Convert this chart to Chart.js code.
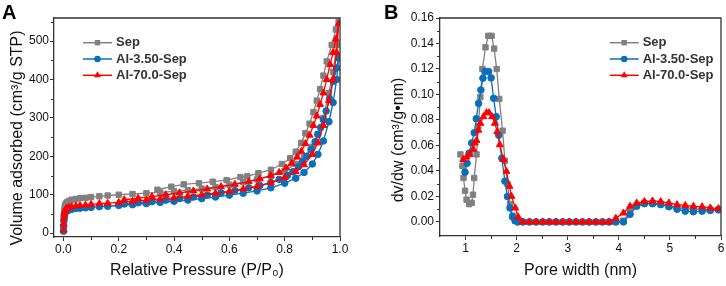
<!DOCTYPE html>
<html>
<head>
<meta charset="utf-8">
<script src="https://cdn.jsdelivr.net/npm/chart.js@4/dist/chart.umd.min.js"></script>
<style>
  body { margin: 0; background: #fff; }
  .panel { position: absolute; top: 0; width: 363px; height: 286px; }
</style>
</head>
<body>
<div class="panel" style="left:0"><canvas id="chartA" width="363" height="286"></canvas></div>
<div class="panel" style="left:363px"><canvas id="chartB" width="363" height="286"></canvas></div>
<script>
// ---- Panel A: N2 isotherms (adsorption then desorption branch) ----
var adsP = [0.0005, 0.001, 0.002, 0.003, 0.005, 0.008, 0.012, 0.02, 0.03, 0.045, 0.06, 0.08, 0.1, 0.13, 0.16, 0.2, 0.25, 0.3, 0.35, 0.4, 0.45, 0.5, 0.55, 0.6, 0.65, 0.7, 0.75, 0.8, 0.84, 0.87, 0.9, 0.92, 0.94, 0.96, 0.975, 0.988, 0.995];
var sepAds = [12, 30, 48, 60, 70, 76, 80, 84, 87, 89, 91, 92, 94, 96, 98, 100, 102, 104, 106, 109, 112, 116, 120, 126, 133, 140, 149, 162, 180, 198, 225, 258, 300, 365, 420, 490, 550];
var al35Ads = [5, 18, 32, 42, 50, 55, 58, 60, 62, 64, 65, 66, 67, 69, 70, 72, 74, 77, 80, 83, 86, 90, 94, 99, 104, 110, 118, 130, 143, 158, 180, 205, 240, 290, 340, 400, 456];
var al70Ads = [8, 25, 40, 50, 57, 62, 65, 67, 69, 71, 72, 73, 75, 77, 78, 80, 83, 86, 89, 92, 96, 100, 104, 109, 115, 122, 131, 145, 160, 178, 205, 235, 280, 345, 400, 470, 545];

var sepDesP = [0.985, 0.97, 0.952, 0.94, 0.928, 0.916, 0.904, 0.89, 0.875, 0.86, 0.84, 0.82, 0.79, 0.75, 0.705, 0.665, 0.64, 0.59, 0.54, 0.49, 0.435, 0.39, 0.34];
var sepDes = [530, 490, 447, 410, 375, 345, 315, 285, 260, 235, 212, 195, 180, 165, 156, 148, 146, 138, 134, 130, 127, 121, 113];
var al35DesP = [0.988, 0.975, 0.962, 0.95, 0.94, 0.93, 0.92, 0.91, 0.895, 0.88, 0.865, 0.85, 0.83, 0.81, 0.78, 0.75, 0.71, 0.67, 0.62, 0.57, 0.52, 0.47, 0.42, 0.37, 0.32, 0.27, 0.22];
var al35Des = [430, 395, 350, 318, 295, 275, 257, 238, 218, 200, 186, 173, 160, 150, 140, 132, 124, 118, 111, 105, 99, 94, 90, 86, 82, 79, 76];
var al70DesP = [0.985, 0.975, 0.964, 0.952, 0.94, 0.928, 0.916, 0.904, 0.89, 0.875, 0.86, 0.845, 0.825, 0.805, 0.78, 0.75, 0.71, 0.67, 0.62, 0.57, 0.52, 0.47, 0.42, 0.37, 0.32, 0.27, 0.22];
var al70Des = [505, 470, 439, 400, 365, 335, 305, 280, 255, 233, 213, 198, 182, 170, 158, 150, 141, 134, 127, 121, 115, 110, 105, 100, 95, 91, 87];

var ticksAx = [0, 0.2, 0.4, 0.6, 0.8, 1.0];
var minorAx = [0.1, 0.3, 0.5, 0.7, 0.9];
var ticksAy = [0, 100, 200, 300, 400, 500];
var minorAy = [50, 150, 250, 350, 450, 550];

// ---- Panel B: pore size distribution ----
var sepW = [0.9, 0.94, 0.96, 0.99, 1.02, 1.07, 1.12, 1.145, 1.17, 1.215, 1.25, 1.29, 1.33, 1.39, 1.445, 1.51, 1.56, 1.61, 1.66, 1.725, 1.77, 1.82, 1.87, 1.92, 1.97, 2.03,
  2.12, 2.25, 2.38, 2.51, 2.64, 2.77, 2.9, 3.03, 3.16, 3.29, 3.42, 3.55, 3.68, 3.81, 3.94,
  4.09, 4.22, 4.35, 4.5, 4.66, 4.82, 4.98, 5.14, 5.3, 5.46, 5.63, 5.79, 5.95];
var sepPsd = [0.053, 0.044, 0.0345, 0.0245, 0.0175, 0.014, 0.015, 0.0214, 0.0345, 0.053, 0.075, 0.098, 0.12, 0.137, 0.146, 0.146, 0.136, 0.12, 0.0965, 0.0716, 0.048, 0.03, 0.014, 0.005, 0.001, 0,
  0, 0, 0, 0, 0, 0, 0, 0, 0, 0, 0, 0, 0, 0, 0,
  0.001, 0.008, 0.013, 0.015, 0.0148, 0.014, 0.0125, 0.011, 0.0105, 0.01, 0.0098, 0.0097, 0.0097];
var al35W = [0.99, 1.03, 1.07, 1.12, 1.17, 1.21, 1.255, 1.3, 1.34, 1.385, 1.45, 1.5, 1.55, 1.6, 1.65, 1.71, 1.77, 1.82, 1.87, 1.92, 1.97, 2.02,
  2.12, 2.25, 2.38, 2.51, 2.64, 2.77, 2.9, 3.03, 3.16, 3.29, 3.42, 3.55, 3.68, 3.81, 3.94,
  4.09, 4.22, 4.35, 4.5, 4.66, 4.82, 4.98, 5.14, 5.3, 5.46, 5.63, 5.79, 5.95];
var al35Psd = [0.039, 0.046, 0.054, 0.062, 0.07, 0.081, 0.093, 0.1035, 0.1127, 0.118, 0.118, 0.113, 0.097, 0.0826, 0.068, 0.05, 0.032, 0.02, 0.011, 0.004, 0.001, 0,
  0, 0, 0, 0, 0, 0, 0, 0, 0, 0, 0, 0, 0, 0, 0,
  0, 0.006, 0.0123, 0.0143, 0.0143, 0.0136, 0.012, 0.01, 0.0085, 0.008, 0.0085, 0.009, 0.0095];
var al70W = [0.955, 1.02, 1.08, 1.15, 1.18, 1.215, 1.25, 1.29, 1.35, 1.41, 1.46, 1.52, 1.575, 1.62, 1.67, 1.74, 1.8, 1.86, 1.9, 1.975, 2.03,
  2.12, 2.25, 2.38, 2.51, 2.64, 2.77, 2.9, 3.03, 3.16, 3.29, 3.42, 3.55, 3.68, 3.81,
  3.94, 4.09, 4.22, 4.35, 4.5, 4.66, 4.82, 4.98, 5.14, 5.3, 5.46, 5.63, 5.79, 5.95];
var al70Psd = [0.049, 0.051, 0.053, 0.057, 0.062, 0.064, 0.072, 0.0774, 0.0826, 0.0857, 0.0857, 0.0826, 0.0774, 0.0708, 0.0606, 0.049, 0.0397, 0.028, 0.0201, 0.011, 0.004,
  0, 0, 0, 0, 0, 0, 0, 0, 0, 0, 0, 0, 0, 0,
  0.003, 0.007, 0.0123, 0.0149, 0.016, 0.0165, 0.016, 0.0149, 0.0136, 0.013, 0.0123, 0.012, 0.011, 0.0105];

var ticksBx = [1, 2, 3, 4, 5, 6];
var minorBx = [1.5, 2.5, 3.5, 4.5, 5.5];
var ticksBy = [0, 0.02, 0.04, 0.06, 0.08, 0.10, 0.12, 0.14, 0.16];
var minorBy = [0.01, 0.03, 0.05, 0.07, 0.09, 0.11, 0.13, 0.15];

var seriesNames = ['Sep', 'Al-3.50-Sep', 'Al-70.0-Sep'];
var seriesColors = ['#808080', '#0a6fba', '#ff0000'];
var seriesStyles = ['rect', 'circle', 'triangle'];
var seriesRadius = [3.8, 3.3, 4];

var FONT = "'Liberation Sans', Arial, sans-serif";
var AXIS = '#333333';

function pairs(xs, ys) {
  return xs.map(function(x, i) { return { x: x, y: ys[i] }; });
}

function makeDataset(i, points) {
  return {
    label: seriesNames[i],
    data: points,
    borderColor: seriesColors[i],
    backgroundColor: seriesColors[i],
    borderWidth: 1.3,
    pointStyle: seriesStyles[i],
    pointRadius: seriesRadius[i],
    pointBorderWidth: 1,
    tension: 0,
    order: 2 - i
  };
}

function drawMarker(ctx, style, r, x, y) {
  ctx.beginPath();
  if (style === 'rect') {
    var h = r * Math.SQRT1_2;
    ctx.rect(x - h, y - h, 2 * h, 2 * h);
  } else if (style === 'circle') {
    ctx.arc(x, y, r, 0, Math.PI * 2);
  } else {
    ctx.moveTo(x, y - r);
    ctx.lineTo(x + r * 0.866, y + r * 0.5);
    ctx.lineTo(x - r * 0.866, y + r * 0.5);
    ctx.closePath();
  }
  ctx.fill();
}

// frame, minor ticks, legend, axis titles, panel letter
function decorPlugin(cfg) {
  return {
    id: 'decor',
    afterDraw: function(chart) {
      var ctx = chart.ctx, a = chart.chartArea;
      var xs = chart.scales.x, ys = chart.scales.y;
      ctx.save();
      ctx.strokeStyle = AXIS;
      ctx.lineWidth = 1.3;
      ctx.beginPath();
      ctx.moveTo(a.left, a.top);
      ctx.lineTo(a.right, a.top);
      ctx.lineTo(a.right, a.bottom);
      ctx.stroke();

      ctx.lineWidth = 1;
      ctx.beginPath();
      cfg.minorX.forEach(function(v) {
        var px = Math.round(xs.getPixelForValue(v)) + 0.5;
        ctx.moveTo(px, a.bottom);
        ctx.lineTo(px, a.bottom + 3);
      });
      cfg.minorY.forEach(function(v) {
        var py = Math.round(ys.getPixelForValue(v)) + 0.5;
        ctx.moveTo(a.left, py);
        ctx.lineTo(a.left - 3, py);
      });
      ctx.stroke();

      // legend
      ctx.textBaseline = 'middle';
      ctx.textAlign = 'left';
      ctx.font = 'bold 13px ' + FONT;
      seriesNames.forEach(function(name, i) {
        var y = cfg.legendY + i * 16.3;
        ctx.strokeStyle = seriesColors[i];
        ctx.fillStyle = seriesColors[i];
        ctx.lineWidth = 1.5;
        ctx.beginPath();
        ctx.moveTo(cfg.legendX, y);
        ctx.lineTo(cfg.legendX + 29, y);
        ctx.stroke();
        drawMarker(ctx, seriesStyles[i], seriesRadius[i], cfg.legendX + 14.5, y);
        ctx.fillStyle = '#333333';
        ctx.fillText(name, cfg.legendX + 33, y);
      });

      // axis titles
      ctx.fillStyle = '#111111';
      ctx.font = '16px ' + FONT;
      ctx.textAlign = 'center';
      ctx.fillText(cfg.xTitle, (a.left + a.right) / 2, 271);
      ctx.save();
      ctx.translate(cfg.yTitleX, cfg.yTitleY);
      ctx.rotate(-Math.PI / 2);
      ctx.fillText(cfg.yTitle, 0, 0);
      ctx.restore();

      ctx.font = 'bold 20px ' + FONT;
      ctx.textAlign = 'left';
      ctx.textBaseline = 'top';
      ctx.fillStyle = '#000000';
      ctx.fillText(cfg.letter, cfg.letterX, 3);
      ctx.restore();
    }
  };
}

function axisOptions(min, max, ticks, fmt, isX, size, pad) {
  return {
    type: 'linear',
    min: min,
    max: max,
    afterBuildTicks: function(s) {
      s.ticks = ticks.map(function(v) { return { value: v }; });
    },
    afterFit: function(s) {
      if (isX) {
        s.height = size; s.paddingLeft = 0; s.paddingRight = 0;
      } else {
        s.width = size; s.paddingTop = 0; s.paddingBottom = 0;
      }
    },
    ticks: {
      autoSkip: false,
      maxRotation: 0,
      padding: pad,
      color: '#111111',
      font: { family: FONT, size: 12 },
      callback: fmt
    },
    grid: { drawOnChartArea: false, drawTicks: true, tickLength: 4, tickColor: AXIS, tickWidth: 1 },
    border: { display: true, color: AXIS, width: 1.3 }
  };
}

var isoSep = pairs(adsP, sepAds).concat(pairs(sepDesP, sepDes));
var isoAl35 = pairs(adsP, al35Ads).concat(pairs(al35DesP, al35Des));
var isoAl70 = pairs(adsP, al70Ads).concat(pairs(al70DesP, al70Des));

new Chart(document.getElementById('chartA'), {
  type: 'line',
  data: { datasets: [makeDataset(0, isoSep), makeDataset(1, isoAl35), makeDataset(2, isoAl70)] },
  options: {
    responsive: false,
    animation: false,
    layout: { padding: { left: 0, right: 23, top: 18, bottom: 0 } },
    plugins: { legend: { display: false }, tooltip: { enabled: false } },
    scales: {
      x: axisOptions(-0.034, 1.0, ticksAx, function(v) { return v.toFixed(1); }, true, 49, 1),
      y: axisOptions(-10, 560, ticksAy, function(v) { return String(v); }, false, 54, 1)
    }
  },
  plugins: [decorPlugin({
    minorX: minorAx, minorY: minorAy,
    legendX: 83, legendY: 42.7,
    xTitle: 'Relative Pressure (P/P\u2080)',
    yTitle: 'Volume adsorbed (cm\u00B3/g STP)', yTitleX: 18, yTitleY: 138,
    letter: 'A', letterX: 2
  })]
});

new Chart(document.getElementById('chartB'), {
  type: 'line',
  data: { datasets: [makeDataset(0, pairs(sepW, sepPsd)), makeDataset(1, pairs(al35W, al35Psd)), makeDataset(2, pairs(al70W, al70Psd))] },
  options: {
    responsive: false,
    animation: false,
    layout: { padding: { left: 0, right: 5, top: 18, bottom: 0 } },
    plugins: { legend: { display: false }, tooltip: { enabled: false } },
    scales: {
      x: axisOptions(0.5, 6, ticksBx, function(v) { return String(v); }, true, 50, 1),
      y: axisOptions(-0.011, 0.16, ticksBy, function(v) { return v.toFixed(2); }, false, 77, 2)
    }
  },
  plugins: [decorPlugin({
    minorX: minorBx, minorY: minorBy,
    legendX: 246.7, legendY: 42.7,
    xTitle: 'Pore width (nm)',
    yTitle: 'dv/dw (cm\u00B3/g\u2022nm)', yTitleX: 36, yTitleY: 140,
    letter: 'B', letterX: 21
  })]
});
</script>
</body>
</html>
